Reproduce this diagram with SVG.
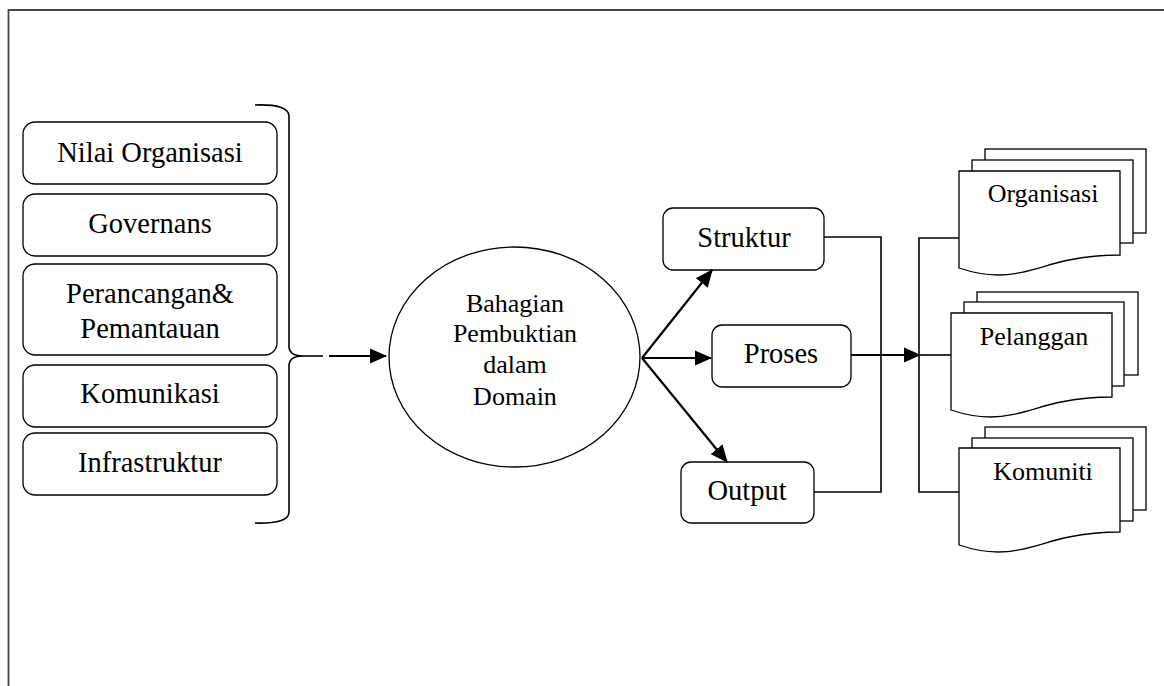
<svg xmlns="http://www.w3.org/2000/svg" width="1164" height="686" viewBox="0 0 1164 686">
<style>
.box{fill:#fff;stroke:#000;stroke-width:1.3}
.doc{fill:#fff;stroke:#000;stroke-width:1.3}
.ln{fill:none;stroke:#000;stroke-width:1.6}
.ar{fill:none;stroke:#000;stroke-width:2.2}
.t{font-family:'Liberation Serif','Times New Roman','DejaVu Serif',serif;font-size:28.5px;fill:#000;text-anchor:middle}
.s{font-family:'Liberation Serif','Times New Roman','DejaVu Serif',serif;font-size:26px;fill:#000;text-anchor:middle}
</style>
<defs>
<marker id="ah" markerWidth="8" markerHeight="7" refX="7.5" refY="3.5" orient="auto" markerUnits="strokeWidth">
<path d="M0,0 L8,3.5 L0,7 Z" fill="#000"/>
</marker>
<path id="docshape" d="M0,0 H161 V84 C145,84 130,85 110,89 C85,94 65,104 39,104 C25,104 12,101 0,97 Z"/>
</defs>
<rect width="1164" height="686" fill="#fff"/>
<path d="M8.5,686 V10 H1164" fill="none" stroke="#444" stroke-width="1.8"/>

<g id="n-nilai"><rect class="box" x="23" y="122" width="254" height="62" rx="12"/><text class="t" font-family="Liberation Serif, DejaVu Serif, serif" x="150" y="162">Nilai Organisasi</text></g>
<g id="n-governans"><rect class="box" x="23" y="194" width="254" height="62" rx="12"/><text class="t" x="150" y="233">Governans</text></g>
<g id="n-perancangan"><rect class="box" x="23" y="264" width="254" height="91" rx="12"/><text class="t" x="150" y="303">Perancangan&amp;</text><text class="t" x="150" y="338">Pemantauan</text></g>
<g id="n-komunikasi"><rect class="box" x="23" y="365" width="254" height="62" rx="12"/><text class="t" x="150" y="403">Komunikasi</text></g>
<g id="n-infrastruktur"><rect class="box" x="23" y="433" width="254" height="62" rx="12"/><text class="t" x="150" y="472">Infrastruktur</text></g>

<g id="n-bracket"><path class="ln" d="M255,105 Q289,104 289,116 V346 Q289,356 303,356 Q289,356 289,366 V512 Q289,524 255,523"/></g>

<g id="n-domain"><ellipse class="box" cx="514.5" cy="357" rx="125.5" ry="110"/>
<text class="s" x="515" y="312">Bahagian</text><text class="s" x="515" y="342">Pembuktian</text><text class="s" x="515" y="373">dalam</text><text class="s" x="515" y="405">Domain</text></g>

<g id="n-struktur"><rect class="box" x="663" y="208" width="161" height="62" rx="10"/><text class="t" x="744" y="247">Struktur</text></g>
<g id="n-proses"><rect class="box" x="712" y="325" width="139" height="62" rx="10"/><text class="t" x="781" y="363">Proses</text></g>
<g id="n-output"><rect class="box" x="681" y="462" width="133" height="61" rx="10"/><text class="t" x="747" y="500">Output</text></g>

<g id="connectors">
<line class="ln" x1="303" y1="356" x2="323" y2="356"/>
<line class="ar" x1="329" y1="356" x2="386" y2="356" marker-end="url(#ah)"/>
<line class="ar" x1="642" y1="358" x2="712" y2="270" marker-end="url(#ah)"/>
<line class="ar" x1="642" y1="358" x2="711" y2="358" marker-end="url(#ah)"/>
<line class="ar" x1="642" y1="358" x2="727" y2="462" marker-end="url(#ah)"/>
<path class="ln" d="M824,237 H881 V492 H814"/>
<line class="ar" x1="851" y1="355" x2="920" y2="355" marker-end="url(#ah)"/>
<path class="ln" d="M959,238 H919 V492 H959"/>
<line class="ln" x1="919" y1="355" x2="951" y2="355"/>
</g>

<g id="n-organisasi">
<rect class="doc" x="985" y="149" width="161" height="84"/>
<rect class="doc" x="972" y="160" width="161" height="83"/>
<use href="#docshape" class="doc" transform="translate(959,171)"/>
<text class="s" x="1043" y="202">Organisasi</text>
</g>
<g id="n-pelanggan">
<rect class="doc" x="977" y="292" width="161" height="83"/>
<rect class="doc" x="964" y="302" width="160" height="84"/>
<use href="#docshape" class="doc" transform="translate(951,313)"/>
<text class="s" x="1034" y="345">Pelanggan</text>
</g>
<g id="n-komuniti">
<rect class="doc" x="985" y="427" width="161" height="83"/>
<rect class="doc" x="972" y="438" width="161" height="83"/>
<use href="#docshape" class="doc" transform="translate(959,448)"/>
<text class="s" x="1043" y="480">Komuniti</text>
</g>
</svg>
